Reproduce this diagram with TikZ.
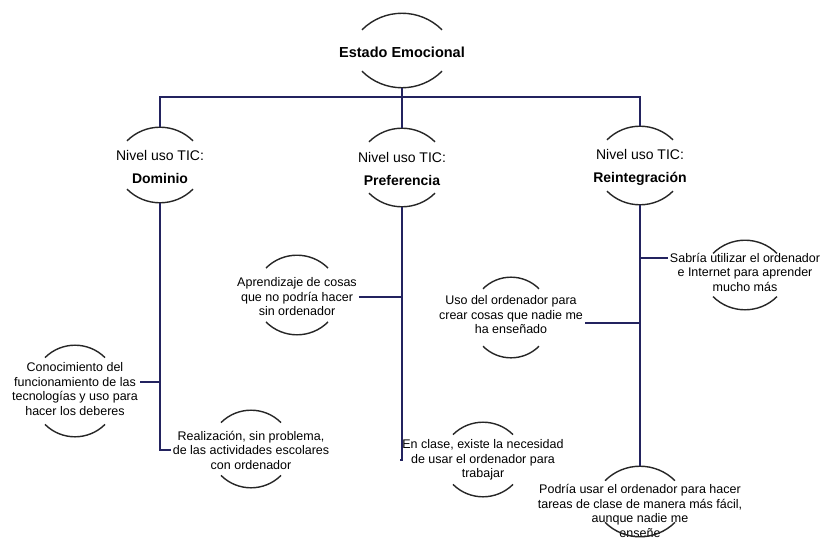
\documentclass[tikz,border=0pt]{standalone}
\usepackage{fontspec}
\setmainfont{Liberation Sans}
\usetikzlibrary{calc}
\definecolor{linknavy}{RGB}{35,35,95}

\begin{document}
\begin{tikzpicture}[x=1pt, y=-1pt,
    leaf/.style={align=center, font=\fontsize{12.5}{14.5}\selectfont, inner sep=2pt},
    level/.style={align=center, font=\fontsize{14}{16}\selectfont},
    halo/.style={line width=1.4pt, black!85},
    link/.style={line width=1.5pt, linknavy}]
    % Background
    \fill[white] (0,0) rectangle (825,540);

    % Title
    \node[font=\bfseries\fontsize{14.5}{17}\selectfont] (title) at (402,52) {Estado Emocional};

    % Levels
    \node[level] (dom) at (160,167) {Nivel uso TIC:\\[7pt]\textbf{Dominio}};
    \node[level] (pref) at (402,169) {Nivel uso TIC:\\[7pt]\textbf{Preferencia}};
    \node[level] (rein) at (640,167) {Nivel uso TIC:\\[7pt]\textbf{Reintegración}};

    % Leaves
    \node[leaf] (apr) at (297,297) {Aprendizaje de cosas\\que no podría hacer\\sin ordenador};
    \node[leaf] (sab) at (745,272) {Sabría utilizar el ordenador\\e Internet para aprender\\mucho más};
    \node[leaf] (uso) at (511,315) {Uso del ordenador para\\crear cosas que nadie me\\ha enseñado};
    \node[leaf] (con) at (75,389) {Conocimiento del\\funcionamiento de las\\tecnologías y uso para\\hacer los deberes};
    \node[leaf] (rea) at (251,450) {Realización, sin problema,\\de las actividades escolares\\con ordenador};
    \node[leaf] (enc) at (483,460) {En clase, existe la necesidad\\de usar el ordenador para\\trabajar};
    \node[leaf] (pod) at (640,511) {Podría usar el ordenador para hacer\\tareas de clase de manera más fácil,\\aunque nadie me\\enseñe};

    % Arcs above and below each text
    \foreach \n/\w/\t/\b in {title/40/-39/36, dom/33/-40/36, pref/33/-41/38, rein/33/-41/38,
                             apr/31/-42/38, sab/32/-32/38, uso/28/-38/43, con/30/-44/48,
                             rea/30/-40/38, enc/30/-38/37, pod/35/-45/26} {
        \coordinate (\n-t) at ($(\n.center)+(0,\t)$);
        \coordinate (\n-b) at ($(\n.center)+(0,\b)$);
        \draw[halo] ($(\n-t)+(-\w,0.42*\w)$) to[bend left=45] ($(\n-t)+(\w,0.42*\w)$);
        \draw[halo] ($(\n-b)+(-\w,-0.42*\w)$) to[bend right=45] ($(\n-b)+(\w,-0.42*\w)$);
    }

    % Title to levels
    \draw[link] (title-b) -- ++(0,9) coordinate (hub);
    \draw[link] (dom-t) |- (hub) -| (rein-t);
    \draw[link] (hub) -- (pref-t);

    % Dominio
    \draw[link] (dom-b) |- (rea.west);
    \draw[link] ($(con.east)+(0,-7)$) -- ($(con.east -| dom-b)+(0,-7)$);

    % Preferencia
    \draw[link] (pref-b) |- (enc.west);
    \draw[link] (apr.east) -- (apr.east -| pref-b);

    % Reintegracion
    \draw[link] (rein-b) -- (pod-t);
    \draw[link] ($(sab.west)+(0,-14)$) -- ($(sab.west -| rein-b)+(0,-14)$);
    \draw[link] ($(uso.east)+(0,8)$) -- ($(uso.east -| rein-b)+(0,8)$);

\end{tikzpicture}
\end{document}
